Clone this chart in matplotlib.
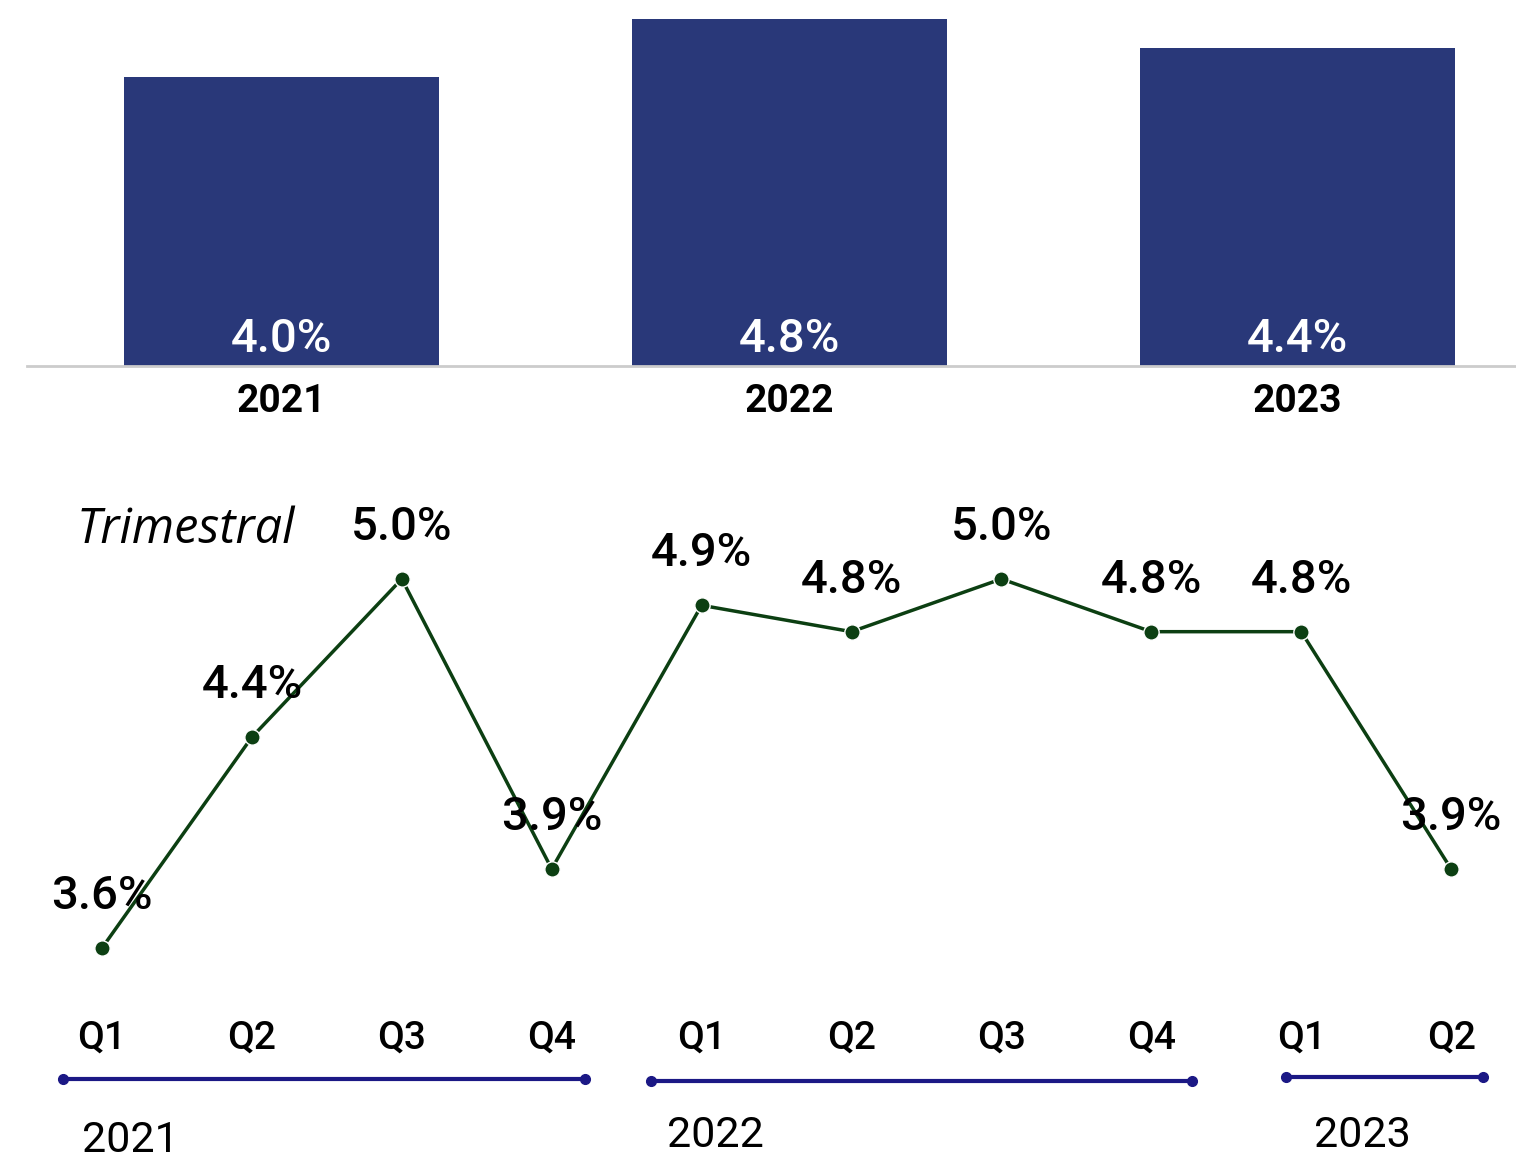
import numpy as np
import matplotlib
matplotlib.use("Agg")
import matplotlib.pyplot as plt
import matplotlib.transforms as mtransforms

plt.rcParams['font.family'] = ['Roboto', 'DejaVu Sans']

# annual data
years = ["2021", "2022", "2023"]
annual = [4.0, 4.8, 4.4]

# quarterly data
quarters = ["Q1", "Q2", "Q3", "Q4", "Q1", "Q2", "Q3", "Q4", "Q1", "Q2"]
quarterly = [3.6, 4.4, 5.0, 3.9, 4.9, 4.8, 5.0, 4.8, 4.8, 3.9]

# year groups under the quarter axis: first / last quarter index
group_years = ["2021", "2022", "2023"]
group_first = [0, 4, 8]
group_last = [3, 7, 9]

BAR = "#293879"
LINE = "#0c3f12"
NAVY = "#1b1885"

fig = plt.figure(figsize=(15.16, 11.56), dpi=100)

# ---- top: annual bars
ax1 = fig.add_axes([27 / 1516, 1 - 366 / 1156, 1 - 27 / 1516, (366 - 19) / 1156])
x = np.arange(len(years))
ax1.bar(x, annual, width=0.62, color=BAR)
ax1.set_xlim(-0.5, 2.43)
ax1.set_ylim(0, 4.8)
for i, v in enumerate(annual):
    ax1.annotate("%.1f%%" % v, (x[i], 0), xytext=(0, 10), textcoords="offset points",
                 ha="center", va="baseline", color="white", fontsize=34, fontweight="medium")
ax1.set_xticks(x)
ax1.set_xticklabels(years, fontsize=28, fontweight="bold")
ax1.tick_params(axis="x", length=0, pad=12)
ax1.set_yticks([])
for s in ["top", "right", "left"]:
    ax1.spines[s].set_visible(False)
ax1.spines["bottom"].set_color("#cccccc")
ax1.spines["bottom"].set_linewidth(2)

# ---- bottom: quarterly line
ax2 = fig.add_axes([0, 0, 1, 1 - 440 / 1156])
qx = np.arange(len(quarters))
ax2.plot(qx, quarterly, color=LINE, linewidth=2.5, marker="o", markersize=11,
         markerfacecolor=LINE, markeredgecolor="white", markeredgewidth=1.0)
ax2.set_xlim(-102 / 149.9, (1516 - 102) / 149.9)
ax2.set_ylim(3.6 - 208 / 263.6, 3.6 + 508 / 263.6)
ax2.axis("off")
for i, v in enumerate(quarterly):
    ax2.annotate("%.1f%%" % v, (qx[i], v), xytext=(0, 28), textcoords="offset points",
                 ha="center", va="baseline", fontsize=34, fontweight="medium")

ax2.text(0.1227, 0.874, "Trimestral", transform=ax2.transAxes, ha="center", va="center",
         fontsize=35, style="italic", family=["Open Sans", "DejaVu Sans"])

trans = mtransforms.blended_transform_factory(ax2.transData, ax2.transAxes)
for i, q in enumerate(quarters):
    ax2.text(qx[i], 0.1648, q, transform=trans, ha="center", va="center",
             fontsize=28, fontweight="medium")

pad_left = [0.26, 0.34, 0.10]
pad_right = [0.22, 0.27, 0.21]
line_y = [0.1075, 0.105, 0.110]
label_dx = [0.19, 0.09, 0.41]
label_y = [0.022, 0.028, 0.028]
for k, yr in enumerate(group_years):
    x0 = group_first[k] - pad_left[k]
    x1 = group_last[k] + pad_right[k]
    ax2.plot([x0, x1], [line_y[k], line_y[k]], transform=trans, color=NAVY,
             linewidth=3, marker="o", markersize=7, clip_on=False)
    ax2.text(group_first[k] + label_dx[k], label_y[k], yr, transform=trans, ha="center",
             va="center", fontsize=31)

fig.savefig("out.png", dpi=100, facecolor="white")
